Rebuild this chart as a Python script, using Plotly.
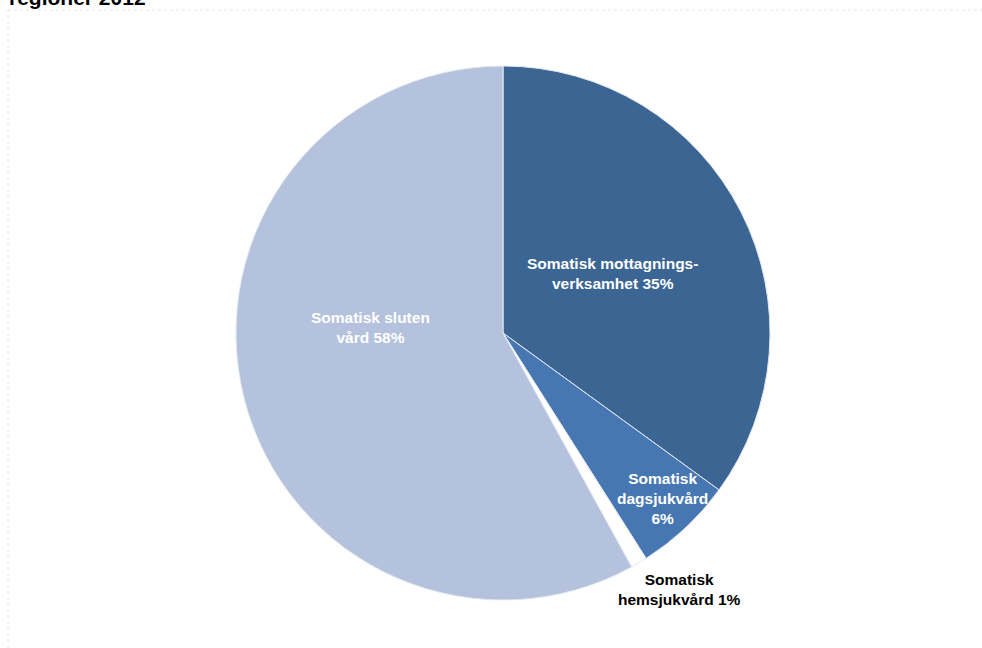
import plotly.graph_objects as go

# Cost shares for somatic care, clockwise from 12 o'clock
categories = [
    "Somatisk mottagnings-<br>verksamhet",
    "Somatisk<br>dagsjukvård",
    "Somatisk<br>hemsjukvård",
    "Somatisk sluten<br>vård",
]
shares = [35, 6, 1, 58]
colors = ["#3B6593", "#4777B3", "#FFFFFF", "#B4C2DD"]
title_text = "regioner 2012"

W, H = 982, 648
cx, cy, r = 503, 333, 267  # pie centre and radius in pixels

fig = go.Figure(
    go.Pie(
        labels=categories,
        values=shares,
        sort=False,
        direction="clockwise",
        rotation=0,
        marker=dict(colors=colors, line=dict(color="#E4E9F1", width=1)),
        textinfo="none",
        hoverinfo="label+percent",
        showlegend=False,
        domain=dict(
            x=[(cx - r) / W, (cx + r) / W],
            y=[(H - cy - r) / H, (H - cy + r) / H],
        ),
    )
)

def px(x, y):
    return x / W, 1 - y / H

# slice labels: (x, y) centre in pixels, text colour, format, separator
label_pos = [
    (612, 273, "white", "{}{}%", " "),
    (662, 498, "white", "{}<br>{}%", ""),
    (679, 589, "black", "{}{}%", " "),
    (370, 327, "white", "{}{}%", " "),
]
annotations = []
for cat, val, (x, y, col, fmt, sep) in zip(categories, shares, label_pos):
    ax, ay = px(x, y)
    annotations.append(dict(
        x=ax, y=ay, xref="paper", yref="paper",
        text=fmt.format(cat + sep if sep else cat, val),
        showarrow=False, align="center",
        font=dict(family="Liberation Sans, Arial", size=15.5, color=col, weight="bold"),
        xanchor="center", yanchor="middle",
    ))

annotations.append(dict(
    x=8 / W, y=1 + 2 / H, xref="paper", yref="paper",
    text=title_text, showarrow=False,
    font=dict(family="Liberation Sans, Arial", size=21, color="black", weight="bold"),
    xanchor="left", yanchor="middle", xshift=-1,
))

fig.update_layout(
    width=W, height=H,
    margin=dict(l=0, r=0, t=0, b=0),
    paper_bgcolor="white",
    plot_bgcolor="white",
    annotations=annotations,
    shapes=[
        dict(type="line", xref="paper", yref="paper",
             x0=8 / W, x1=1, y0=1 - 10 / H, y1=1 - 10 / H,
             line=dict(color="#E6E6E6", width=1, dash="dot")),
        dict(type="line", xref="paper", yref="paper",
             x0=8 / W, x1=8 / W, y0=0, y1=1 - 10 / H,
             line=dict(color="#E6E6E6", width=1, dash="dot")),
    ],
)

fig.write_html("out.html")
